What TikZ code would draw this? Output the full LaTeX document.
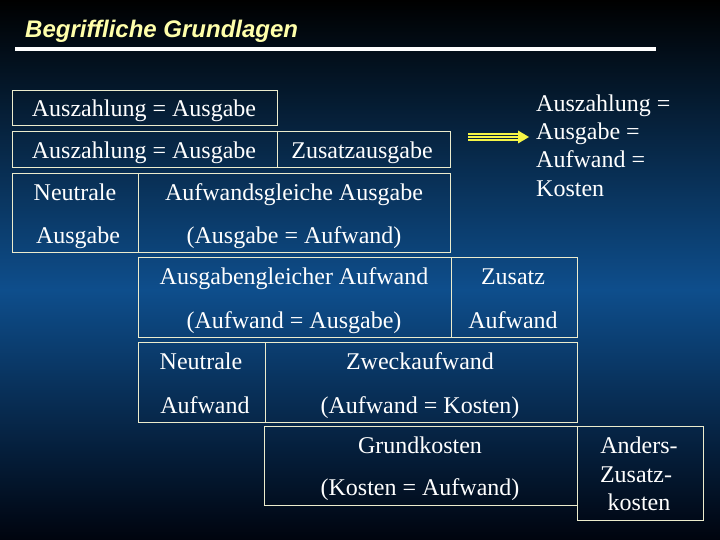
\documentclass[tikz,border=0pt]{standalone}
\usepackage{fontspec}
\setmainfont{Liberation Serif}
\newfontfamily\titlefont{Liberation Sans}
\usetikzlibrary{arrows.meta}
\definecolor{bgblue}{RGB}{14,78,140}
\definecolor{bgbottom}{RGB}{0,4,14}
\definecolor{titleyellow}{RGB}{255,255,170}
\definecolor{boxline}{RGB}{236,236,205}
\definecolor{arrowyellow}{RGB}{245,245,70}
\begin{document}
\begin{tikzpicture}[x=1bp,y=-1bp,
  boxline/.style={draw=boxline, line width=1bp},
  txt/.style={text=white, font=\fontsize{24bp}{28bp}\selectfont, inner sep=0pt, anchor=base},
  txtl/.style={txt, anchor=base west},
  arrline/.style={arrowyellow, line width=1.9bp}]
\useasboundingbox (0,0) rectangle (720,540);
% background
\fill[top color=black, bottom color=bgblue] (0,0) rectangle (720,290);
\fill[top color=bgblue, bottom color=bgbottom] (0,289.5) rectangle (720,540);
% title
\node[anchor=base west, inner sep=0pt, text=titleyellow, font=\titlefont\bfseries\itshape\fontsize{24bp}{28bp}\selectfont] (title) at (25,38) {Begriffliche Grundlagen};
\draw[white, line width=4bp] (15,49) -- (656,49);
% boxes
\draw[boxline] (12,91) rectangle (277,126);
\draw[boxline] (12,132) rectangle (450,168);
\draw[boxline] (277,132) -- (277,168);
\draw[boxline] (12,174) rectangle (450,253);
\draw[boxline] (138,174) -- (138,253);
\draw[boxline] (138,258) rectangle (577,337);
\draw[boxline] (451,258) -- (451,337);
\draw[boxline] (138,342) rectangle (577,422);
\draw[boxline] (265,342) -- (265,422);
\draw[boxline] (264,426) rectangle (577,505);
\draw[boxline] (577,426) rectangle (703,520);
% texts
\node[txt] (t1) at (144,117) {Auszahlung = Ausgabe};
\node[txt] (t2a) at (144,159) {Auszahlung = Ausgabe};
\node[txt] (t2b) at (362,159) {Zusatzausgabe};
\node[txt] (t3a) at (75,201) {Neutrale};
\node[txt] (t3b) at (78,244) {Ausgabe};
\node[txt] (t3c) at (294,201) {Aufwandsgleiche Ausgabe};
\node[txt] (t3d) at (294,244) {(Ausgabe = Aufwand)};
\node[txt] (t4a) at (294,285) {Ausgabengleicher Aufwand};
\node[txt] (t4b) at (294,328) {(Aufwand = Ausgabe)};
\node[txt] (t4c) at (513,285) {Zusatz};
\node[txt] (t4d) at (513,328) {Aufwand};
\node[txt] (t5a) at (201,369) {Neutrale};
\node[txt] (t5b) at (205,413) {Aufwand};
\node[txt] (t5c) at (420,369) {Zweckaufwand};
\node[txt] (t5d) at (420,413) {(Aufwand = Kosten)};
\node[txt] (t6a) at (420,453) {Grundkosten};
\node[txt] (t6b) at (420,495) {(Kosten = Aufwand)};
\node[txt] (t7a) at (639,453) {Anders-};
\node[txt] (t7b) at (636,482) {Zusatz-};
\node[txt] (t7c) at (639,510) {kosten};
% right text
\node[txtl] (r1) at (536,112) {Auszahlung =};
\node[txtl] (r2) at (536,140) {Ausgabe =};
\node[txtl] (r3) at (536,168) {Aufwand =};
\node[txtl] (r4) at (536,197) {Kosten};
% arrow (triple-line shaft, solid head)
\coordinate (astart) at (468,137);
\coordinate (aend) at (529,137);
\draw[arrline] (astart) -- ([xshift=-9bp]aend);
\draw[arrline] ([yshift=-3.2bp]astart) -- ([xshift=-9bp,yshift=-3.2bp]aend);
\draw[arrline] ([yshift=3.2bp]astart) -- ([xshift=-9bp,yshift=3.2bp]aend);
\fill[arrowyellow] ([xshift=-11bp,yshift=-6.5bp]aend) -- (aend) -- ([xshift=-11bp,yshift=6.5bp]aend) -- cycle;
\end{tikzpicture}
\end{document}
